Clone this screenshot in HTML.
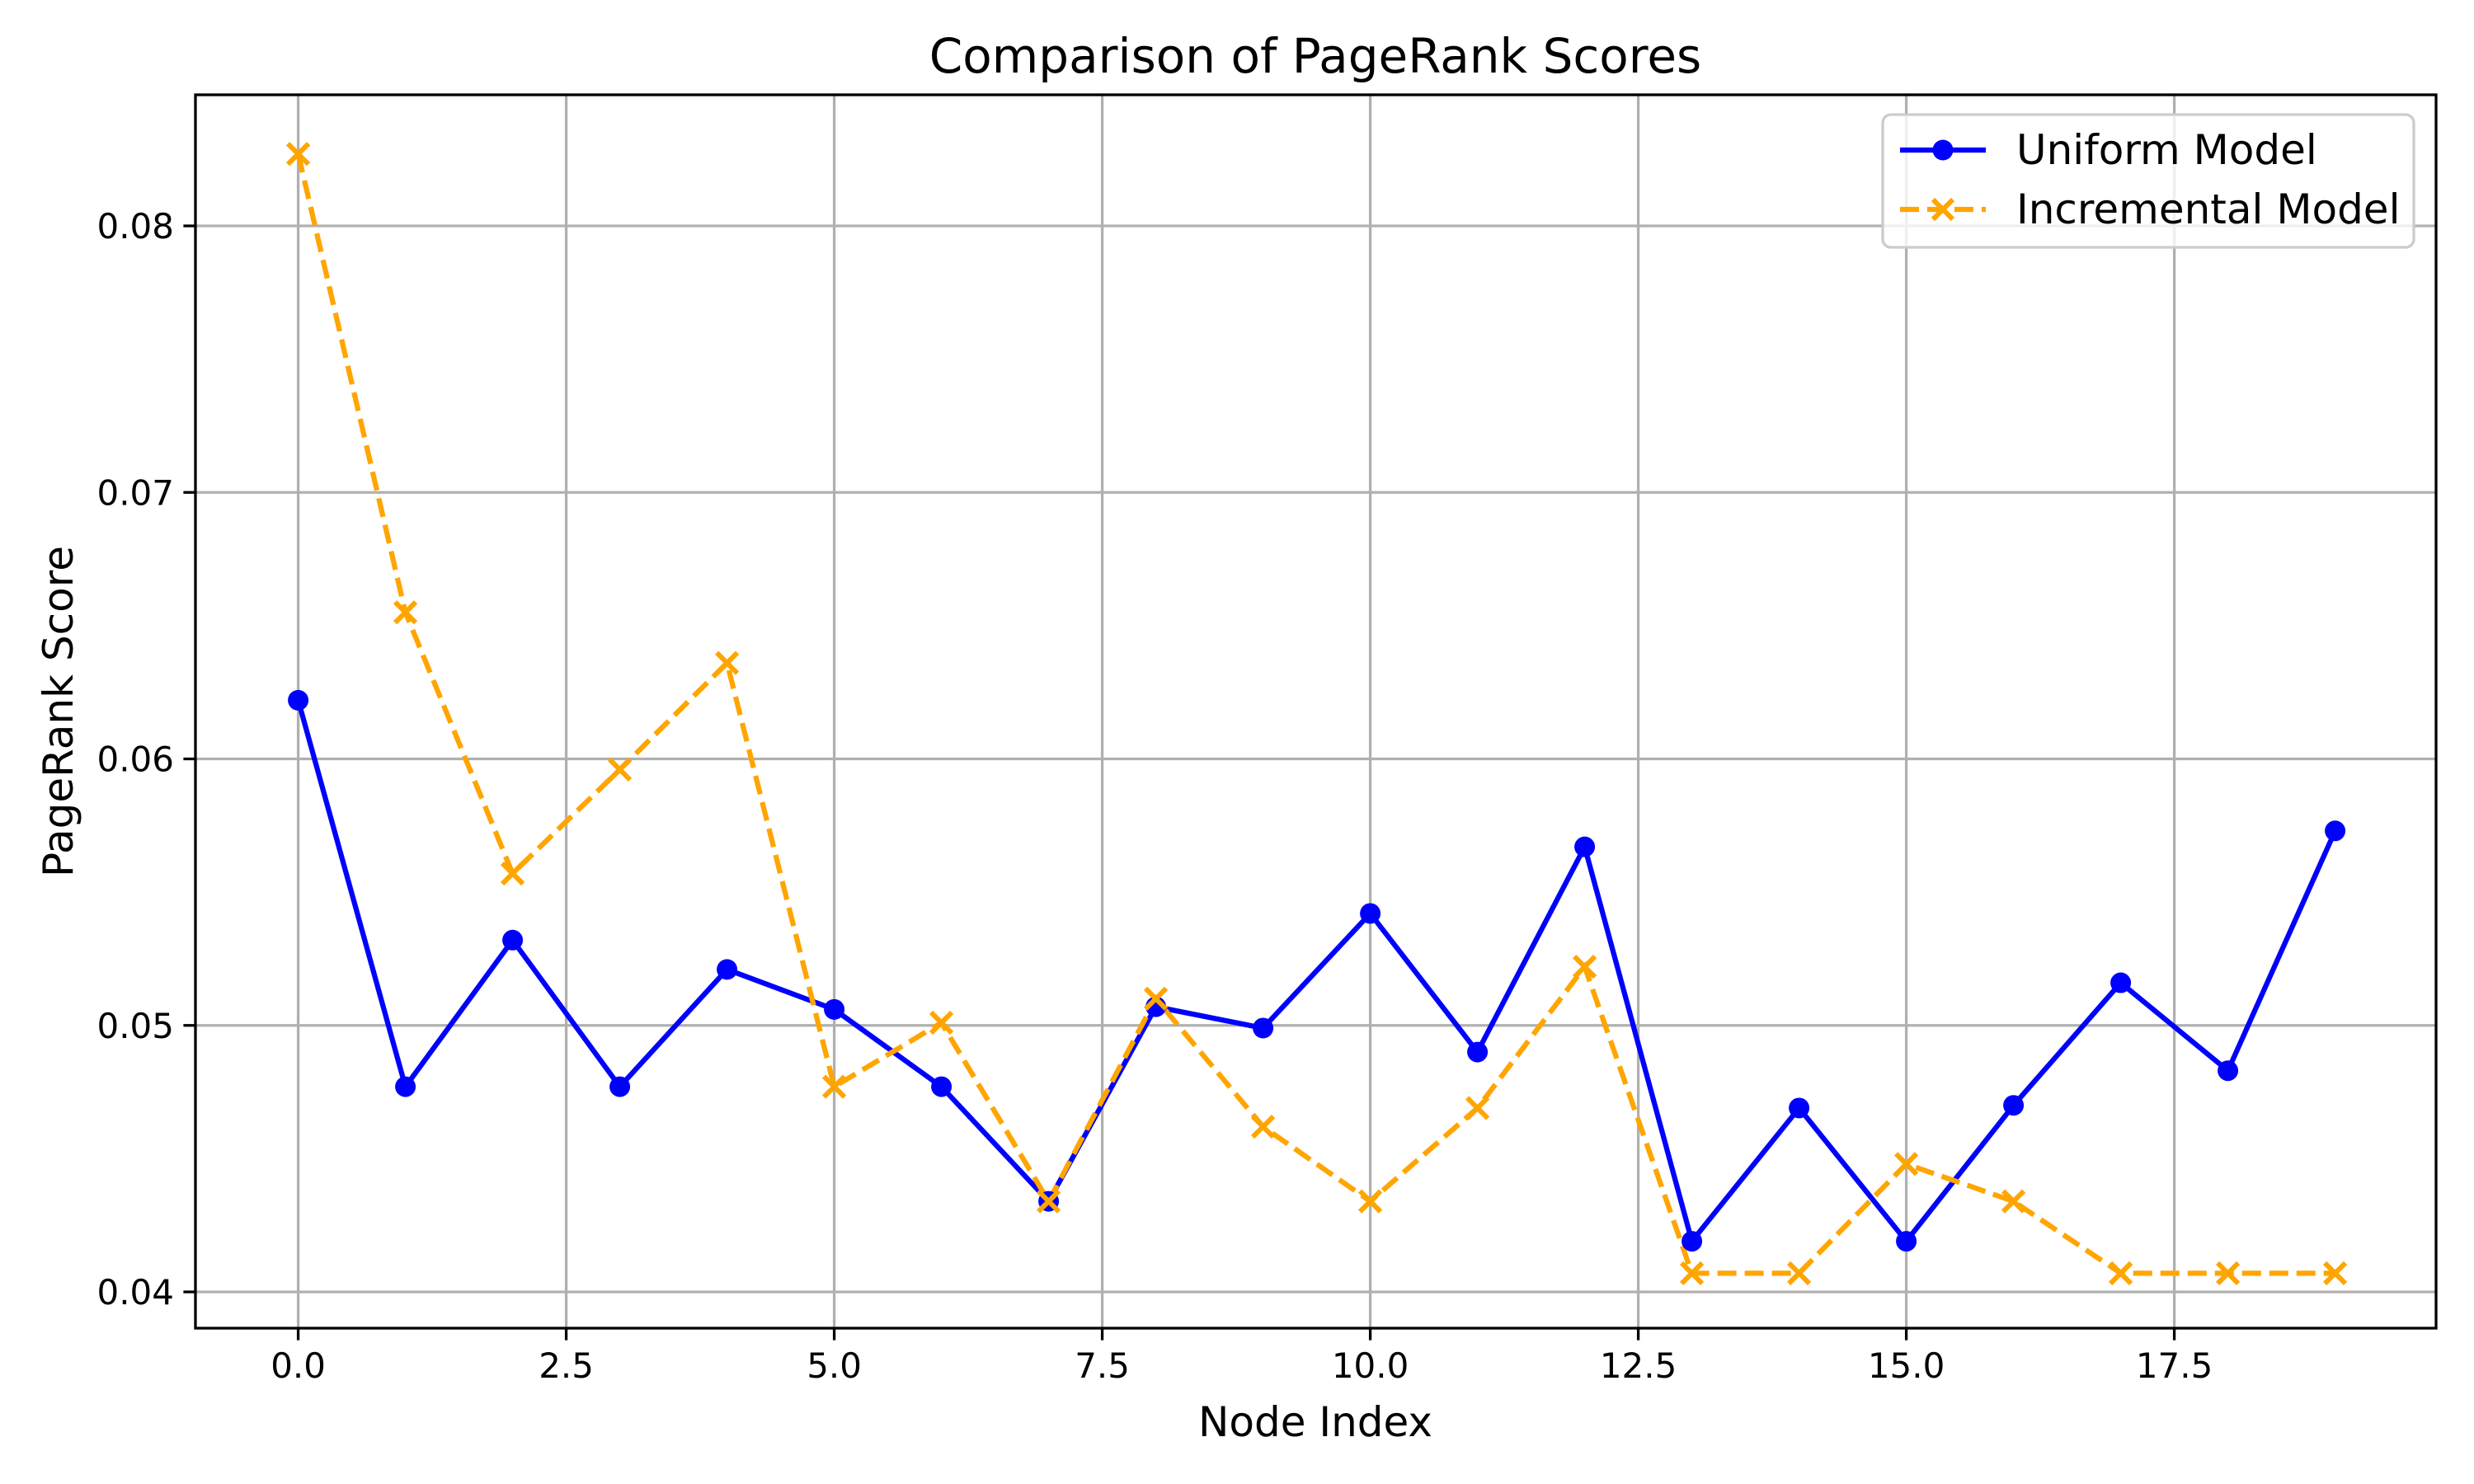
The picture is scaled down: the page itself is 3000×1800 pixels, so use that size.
<!DOCTYPE html>
<html><head><meta charset="utf-8"><style>
html,body{margin:0;padding:0;background:#fff;}
svg{display:block;font-family:"DejaVu Sans","Liberation Sans",sans-serif;}
</style></head><body>
<svg id="chart" width="3000" height="1800" viewBox="0 0 3000 1800" xmlns="http://www.w3.org/2000/svg">
<rect width="3000" height="1800" fill="#fff"/>
<g id="grid"></g>
<g id="series"></g>
<rect x="237" y="115" width="2717" height="1496" fill="none" stroke="#000" stroke-width="3.3"/>
<g id="ticks"></g>
<text x="1595" y="88" text-anchor="middle" font-size="58">Comparison of PageRank Scores</text>
<text x="1595" y="1742" text-anchor="middle" font-size="50">Node Index</text>
<text x="88" y="863" text-anchor="middle" font-size="50" transform="rotate(-90 88 863)">PageRank Score</text>
<g>
<rect x="2283" y="139" width="644" height="161" rx="10" fill="#fff" fill-opacity="0.8" stroke="#cccccc" stroke-width="3.3"/>
<g>
<line x1="2304" y1="182" x2="2408" y2="182" stroke="#0000ff" stroke-width="6.25"/>
<circle cx="2356" cy="182" r="12.5" fill="#0000ff"/>
<text x="2445" y="199" font-size="50">Uniform Model</text>
</g>
<g>
<line x1="2304" y1="254" x2="2408" y2="254" stroke="#ffa500" stroke-width="6.25" stroke-dasharray="23,10"/>
<path d="M2344 242 L2368 266 M2344 266 L2368 242" stroke="#ffa500" stroke-width="6"/>
<text x="2445" y="271" font-size="50">Incremental Model</text>
</g>
</g>
</svg>
<script>
const nodeIndex = [0,1,2,3,4,5,6,7,8,9,10,11,12,13,14,15,16,17,18,19];
const uniformScores = [0.0622,0.0477,0.0532,0.0477,0.0521,0.0506,0.0477,0.0434,0.0507,0.0499,0.0542,0.0490,0.0567,0.0419,0.0469,0.0419,0.0470,0.0516,0.0483,0.0573];
const incrementalScores = [0.0827,0.0655,0.0557,0.0596,0.0636,0.0477,0.0501,0.0434,0.0510,0.0462,0.0434,0.0469,0.0522,0.0407,0.0407,0.0448,0.0434,0.0407,0.0407,0.0407];
const xTicks = [0,2.5,5,7.5,10,12.5,15,17.5];
const xTickLabels = ["0.0","2.5","5.0","7.5","10.0","12.5","15.0","17.5"];
const yTicks = [0.04,0.05,0.06,0.07,0.08];
const yTickLabels = ["0.04","0.05","0.06","0.07","0.08"];

const NS = "http://www.w3.org/2000/svg";
const L = 237, R = 2954, T = 115, B = 1611;
function xs(v){ return 361.6 + v * 130.0; }
function ys(v){ return 1567 - (v - 0.04) * 32325; }
function mk(tag, attrs, parent){
  const e = document.createElementNS(NS, tag);
  for (const k in attrs) e.setAttribute(k, attrs[k]);
  parent.appendChild(e);
  return e;
}
const grid = document.getElementById('grid');
const ticks = document.getElementById('ticks');
const series = document.getElementById('series');

xTicks.forEach((t, i) => {
  const x = xs(t);
  const g = mk('line', {x1:x, y1:T, x2:x, y2:B, stroke:'#b0b0b0', 'stroke-width':3.3}, grid);
  
  
  const tk = mk('line', {x1:x, y1:B, x2:x, y2:B+14.6, stroke:'#000', 'stroke-width':3.3}, ticks);
  
  
  const tx = mk('text', {x:x, y:B+60, 'text-anchor':'middle', 'font-size':42}, ticks);
  tx.textContent = xTickLabels[i];
  
  
});
yTicks.forEach((t, i) => {
  const y = ys(t);
  const g = mk('line', {x1:L, y1:y, x2:R, y2:y, stroke:'#b0b0b0', 'stroke-width':3.3}, grid);
  
  
  const tk = mk('line', {x1:L-14.6, y1:y, x2:L, y2:y, stroke:'#000', 'stroke-width':3.3}, ticks);
  
  
  const tx = mk('text', {x:L-26, y:y+15, 'text-anchor':'end', 'font-size':42}, ticks);
  tx.textContent = yTickLabels[i];
  
  
});

// Uniform series
const up = nodeIndex.map((n, i) => xs(n) + ',' + ys(uniformScores[i])).join(' ');
const ul = mk('polyline', {points:up, fill:'none', stroke:'#0000ff', 'stroke-width':6.25, 'stroke-linejoin':'round'}, series);


// Incremental series
const ip = nodeIndex.map((n, i) => xs(n) + ',' + ys(incrementalScores[i])).join(' ');
const il = mk('polyline', {points:ip, fill:'none', stroke:'#ffa500', 'stroke-width':6.25, 'stroke-dasharray':'23,10'}, series);



nodeIndex.forEach((n, i) => {
  const c = mk('circle', {cx:xs(n), cy:ys(uniformScores[i]), r:12.5, fill:'#0000ff'}, series);
  
  
});
nodeIndex.forEach((n, i) => {
  const x = xs(n), y = ys(incrementalScores[i]), s = 12.5;
  const p = mk('path', {d:`M${x-s} ${y-s} L${x+s} ${y+s} M${x-s} ${y+s} L${x+s} ${y-s}`, stroke:'#ffa500', 'stroke-width':6, fill:'none'}, series);
  
  
});
</script>
</body></html>
